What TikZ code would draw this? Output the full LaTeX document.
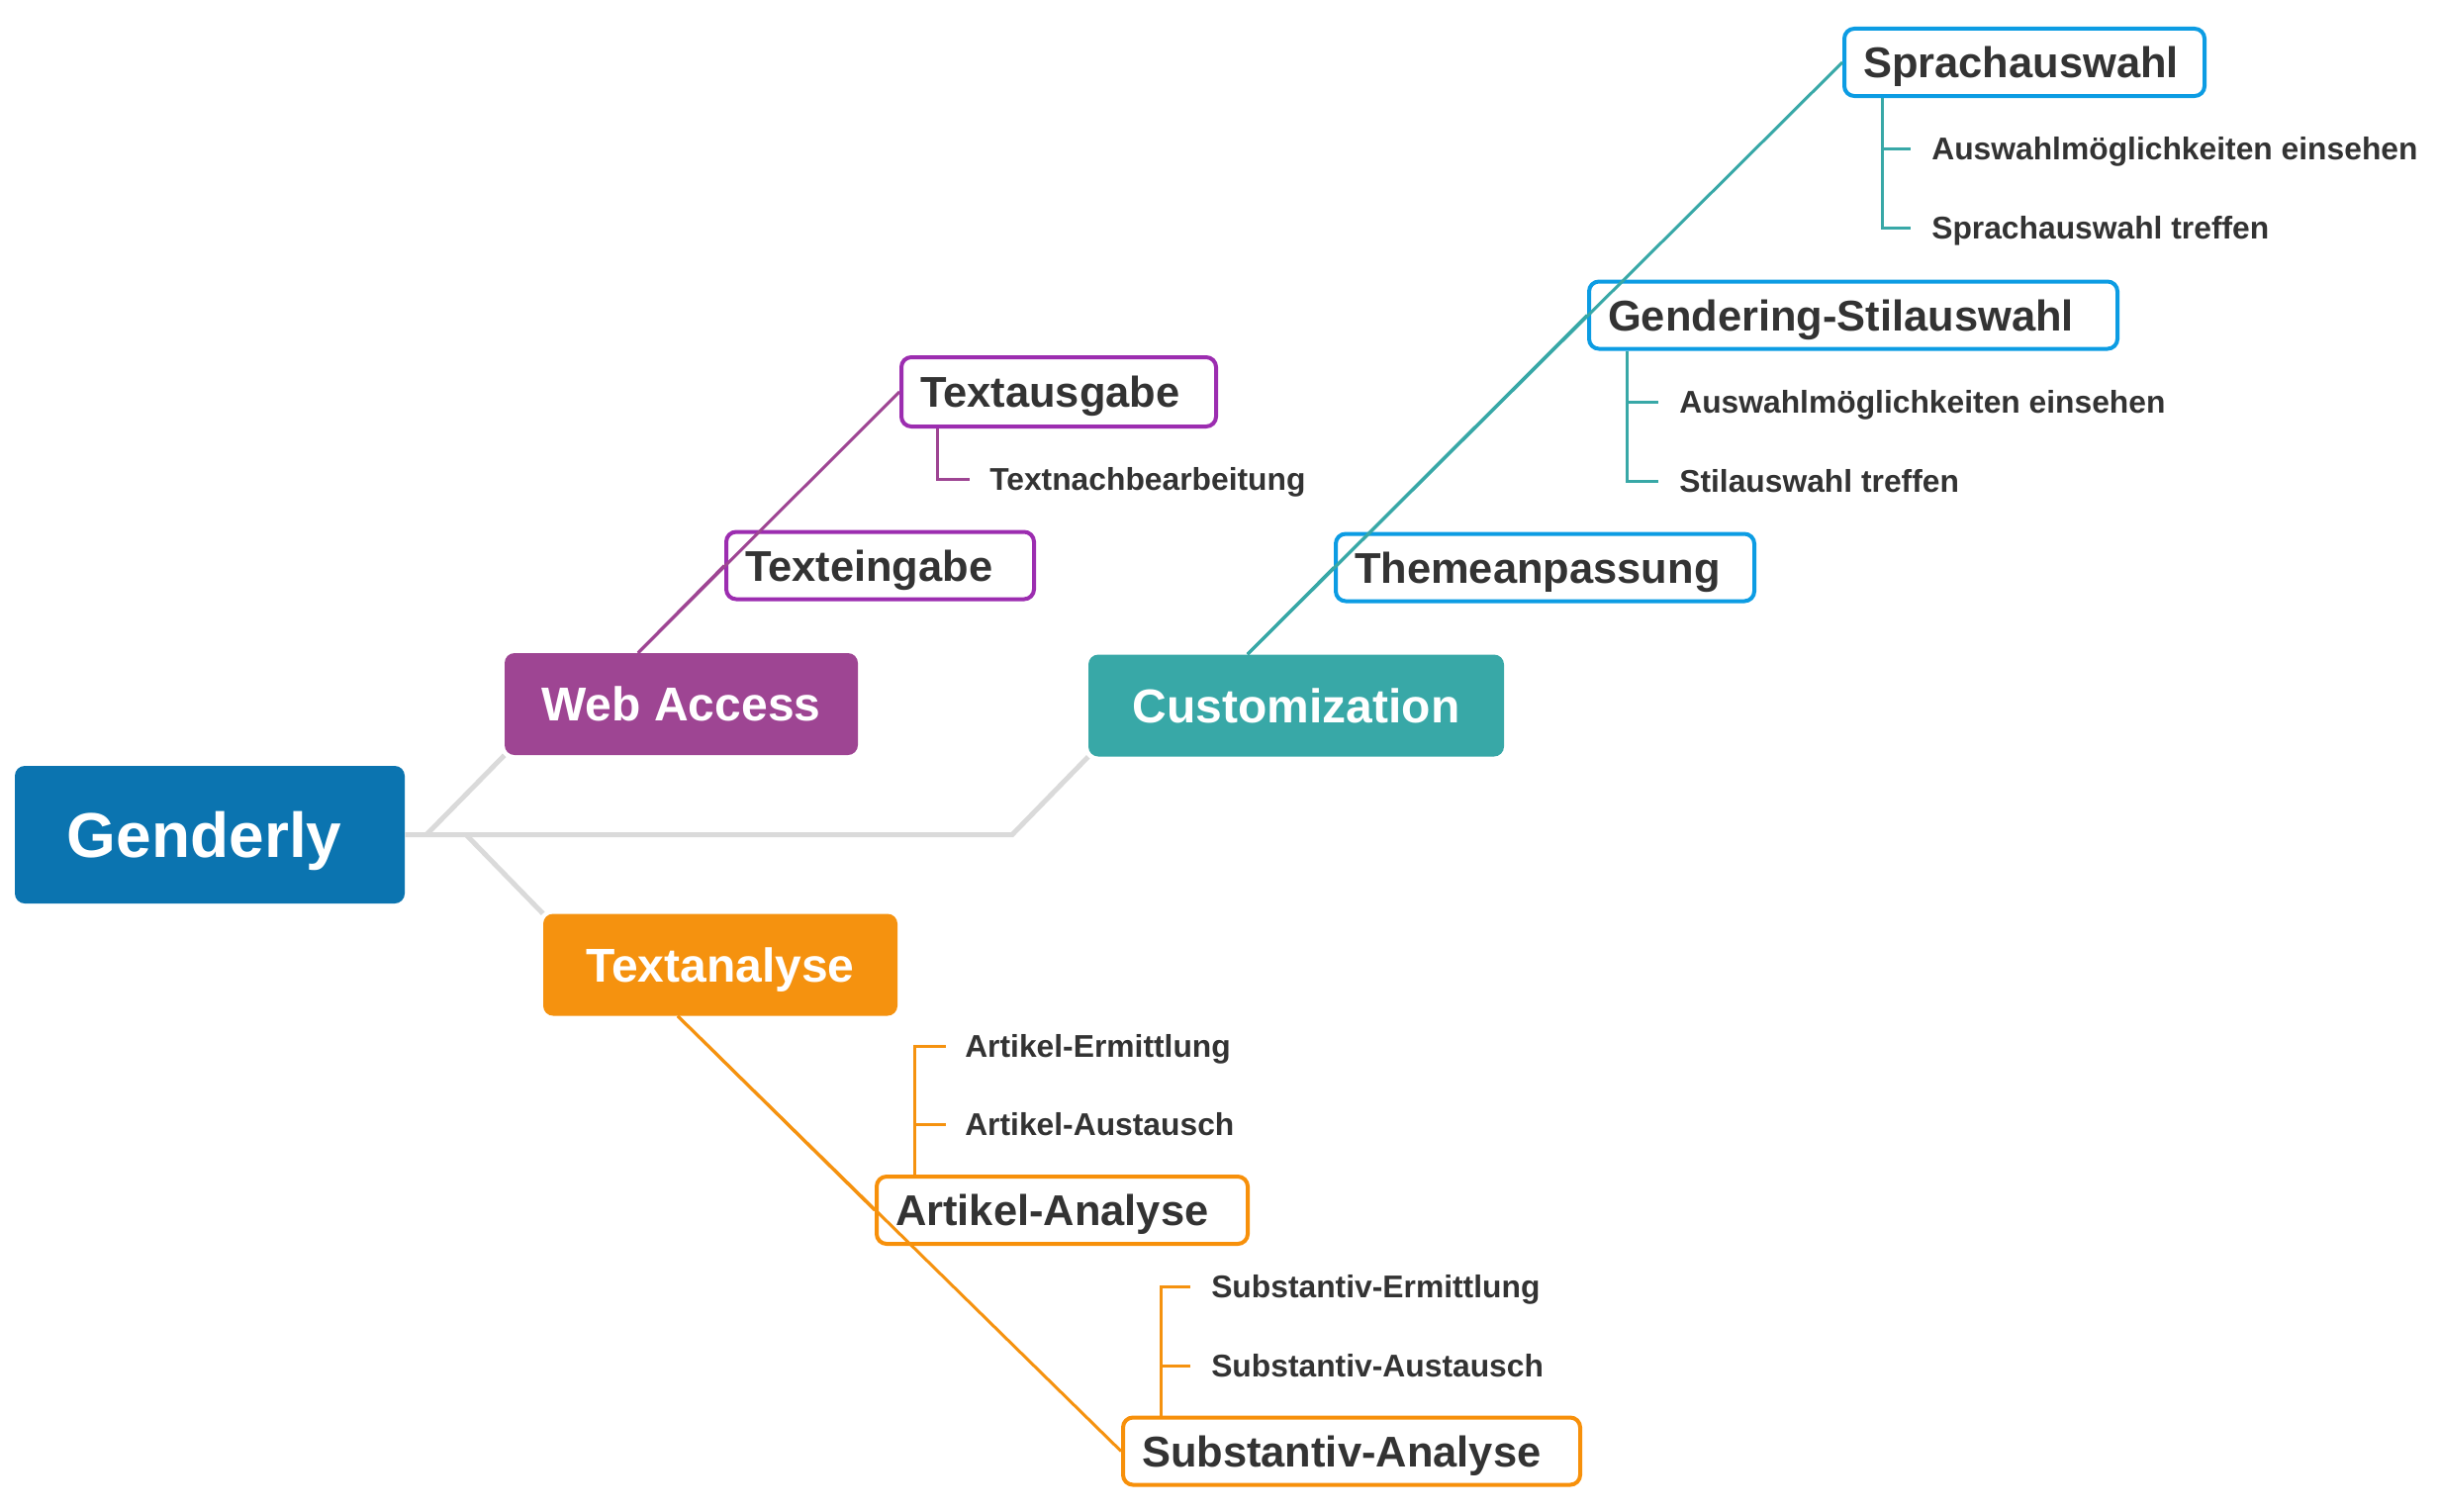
\documentclass[tikz,border=0pt]{standalone}
\usepackage{fontspec}
\setmainfont{Liberation Sans}
\usetikzlibrary{calc}
\definecolor{genblue}{HTML}{0B74B0}
\definecolor{webpurple}{HTML}{9E4593}
\definecolor{custteal}{HTML}{38A8A7}
\definecolor{taorange}{HTML}{F5920F}
\definecolor{cpurple}{HTML}{9C2DB0}
\definecolor{cblue}{HTML}{0C9CE3}
\definecolor{corange}{HTML}{F7900A}
\definecolor{trunkgrey}{HTML}{DADADA}
\definecolor{textdark}{HTML}{333333}
\begin{document}
\begin{tikzpicture}[x=0.75pt,y=-0.75pt,
  mainbox/.style={rounded corners=7.5pt, text=white, inner sep=0pt,
    font=\fontsize{36}{42}\selectfont\bfseries, text height=25.8pt, text depth=0pt,
    minimum height=77.25pt},
  childbox/.style={draw, line width=3pt, rounded corners=7.5pt, fill=white, text=textdark,
    font=\fontsize{32.6}{38}\selectfont\bfseries, minimum height=51pt,
    inner xsep=14.25pt, inner ysep=0pt, text height=23.3pt, text depth=0pt, align=left},
  leaf/.style={anchor=west, inner sep=0pt, text=textdark,
    font=\fontsize{23.85}{28}\selectfont\bfseries, text height=17.1pt, text depth=0pt},
  trunk/.style={draw=trunkgrey, line width=3.75pt},
  pline/.style={draw=webpurple, line width=2.25pt},
  tline/.style={draw=custteal, line width=2.25pt},
  oline/.style={draw=taorange, line width=2.25pt}
]
\useasboundingbox (0,0) rectangle (2465,1527);

% main nodes
\node[mainbox, fill=genblue, minimum width=295.5pt, minimum height=104.25pt,
  font=\fontsize{48}{56}\selectfont\bfseries, text height=34.4pt] (G) at (212,843.5) {\hspace*{-8pt}Genderly};
\node[mainbox, fill=webpurple, minimum width=267.75pt] (W) at (688.5,711.5) {Web Access};
\node[mainbox, fill=custteal, minimum width=315pt] (C) at (1310,713) {Customization};
\node[mainbox, fill=taorange, minimum width=268.5pt] (T) at (728,975) {Textanalyse};

% child boxes
\node[childbox, draw=cpurple, text width=210pt, minimum height=52.5pt] (TA) at (1070,396) {Textausgabe};
\node[childbox, draw=cpurple, text width=204.75pt] (TE) at (889.5,571.5) {Texteingabe};
\node[childbox, draw=cblue, text width=244.5pt] (SA) at (2046,63) {Sprachauswahl};
\node[childbox, draw=cblue, text width=372pt] (GS) at (1873,318.5) {Gendering-Stilauswahl};
\node[childbox, draw=cblue, text width=288.75pt] (TH) at (1561.5,573.5) {Themeanpassung};
\node[childbox, draw=corange, text width=252.75pt] (AA) at (1073.5,1223) {Artikel-Analyse};
\node[childbox, draw=corange, text width=318pt] (SU) at (1366,1466.5) {Substantiv-Analyse};

% leaves
\node[leaf] (L1) at (1000,484) {Textnachbearbeitung};
\node[leaf] (S1) at (1952,150) {Auswahlmöglichkeiten einsehen};
\node[leaf] (S2) at (1952,230) {Sprachauswahl treffen};
\node[leaf] (G1) at (1697,406) {Auswahlmöglichkeiten einsehen};
\node[leaf] (G2) at (1697,486) {Stilauswahl treffen};
\node[leaf] (A1) at (975,1057) {Artikel-Ermittlung};
\node[leaf] (A2) at (975,1136) {Artikel-Austausch};
\node[leaf] (U1) at (1224,1300) {Substantiv-Ermittlung};
\node[leaf] (U2) at (1224,1380) {Substantiv-Austausch};

% trunk connectors
\coordinate (bend) at (1023,843.5);
\coordinate (wroot) at (431,843.5);
\coordinate (troot) at (471,843.5);
\draw[trunk] (G.east) -- (bend) -- (C.south west);
\draw[trunk] (wroot) -- (W.south west);
\draw[trunk] (troot) -- (T.north west);

% coloured connectors
\coordinate (wtop) at ($(W.north west)!0.378!(W.north east)$);
\coordinate (ctop) at ($(C.north west)!0.383!(C.north east)$);
\coordinate (tbot) at ($(T.south west)!0.38!(T.south east)$);
\draw[pline] (wtop) -- (TE.west);
\draw[pline] (wtop) -- (TA.west);
\draw[tline] (ctop) -- (TH.west);
\draw[tline] (ctop) -- (GS.west);
\draw[tline] (ctop) -- (SA.west);
\draw[oline] (tbot) -- (AA.west);
\draw[oline] (tbot) -- (SU.west);

% brackets
\draw[pline] ($(TA.south west)+(38,0)$) |- ($(L1.west)+(-20,0)$);
\draw[tline] ($(SA.south west)+(40,0)$) |- ($(S1.west)+(-21,0)$);
\draw[tline] ($(SA.south west)+(40,0)$) |- ($(S2.west)+(-21,0)$);
\draw[tline] ($(GS.south west)+(40,0)$) |- ($(G1.west)+(-21,0)$);
\draw[tline] ($(GS.south west)+(40,0)$) |- ($(G2.west)+(-21,0)$);
\draw[oline] ($(AA.north west)+(40,0)$) |- ($(A1.west)+(-19,0)$);
\draw[oline] ($(AA.north west)+(40,0)$) |- ($(A2.west)+(-19,0)$);
\draw[oline] ($(SU.north west)+(40,0)$) |- ($(U1.west)+(-21,0)$);
\draw[oline] ($(SU.north west)+(40,0)$) |- ($(U2.west)+(-21,0)$);
\end{tikzpicture}
\end{document}
